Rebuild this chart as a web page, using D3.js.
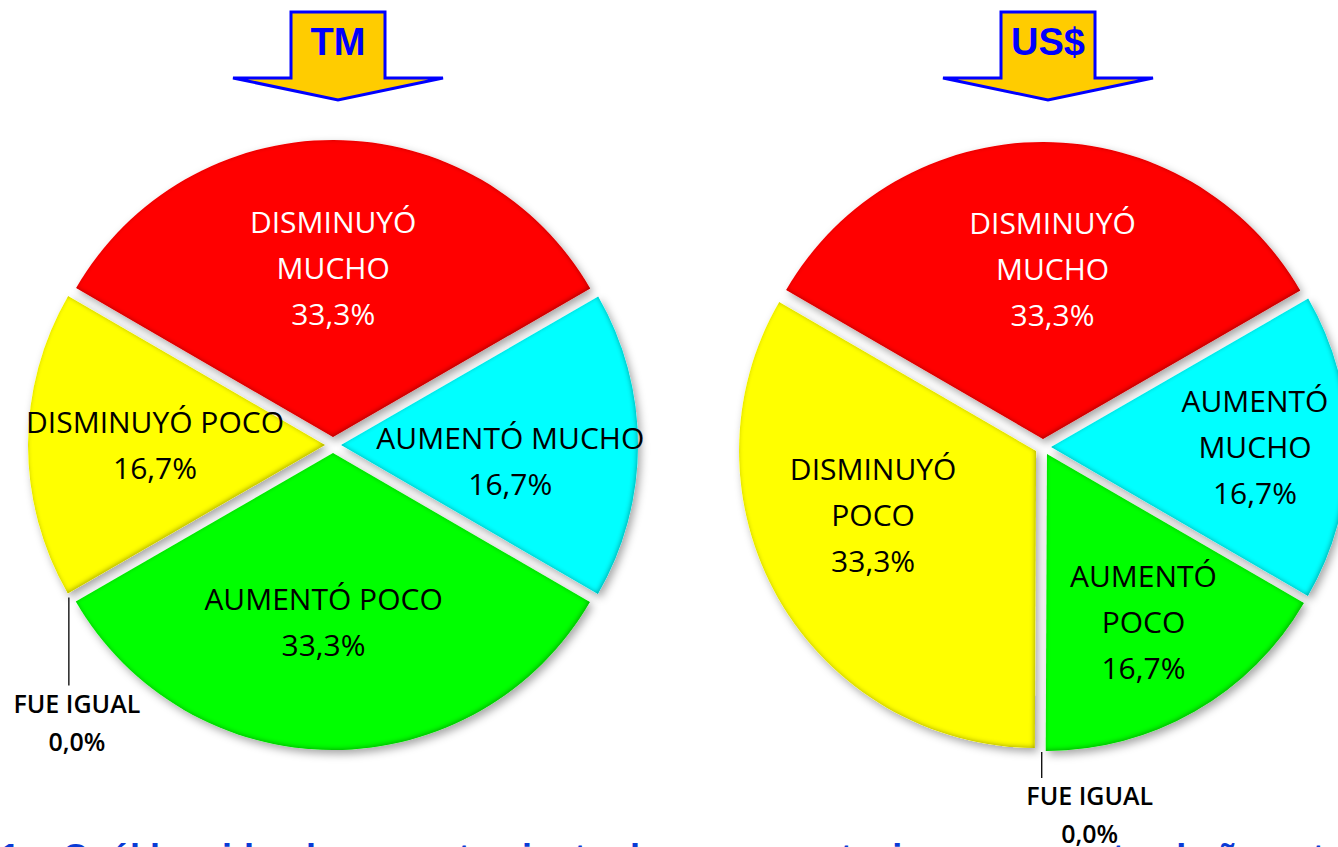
<!DOCTYPE html>
<html lang="es">
<head>
<meta charset="UTF-8">
<title>TM / US$</title>
<script src="https://d3js.org/d3.v7.min.js"></script>
<style>
  html, body { margin:0; padding:0; background:#fff; overflow:hidden; }
  svg { display:block; }
  .lbl { font-family:"Open Sans", sans-serif; font-size:30px; font-weight:500; text-anchor:middle; }
  .fue { font-family:"Open Sans", sans-serif; font-size:25px; font-weight:600; text-anchor:middle; }
  .head { font-family:"Liberation Sans", Arial, sans-serif; font-weight:bold; font-size:38px; fill:#0000ff; text-anchor:middle; }
</style>
</head>
<body>
<div id="chart"></div>
<script>
// data
const categories = ["AUMENTÓ MUCHO", "AUMENTÓ POCO", "FUE IGUAL", "DISMINUYÓ POCO", "DISMINUYÓ MUCHO"];
const tmValues  = [16.7, 33.3, 0, 16.7, 33.3];
const usdValues = [16.7, 16.7, 0, 33.3, 33.3];
const tmLabelLines  = [["AUMENTÓ MUCHO"], ["AUMENTÓ POCO"], ["FUE IGUAL"], ["DISMINUYÓ POCO"], ["DISMINUYÓ", "MUCHO"]];
const usdLabelLines = [["AUMENTÓ", "MUCHO"], ["AUMENTÓ", "POCO"], ["FUE IGUAL"], ["DISMINUYÓ", "POCO"], ["DISMINUYÓ", "MUCHO"]];
const titles = ["TM", "US$"];
const colors = ["#00ffff", "#00ff00", "#888888", "#ffff00", "#ff0000"];
const textColors = ["#000", "#000", "#000", "#000", "#fff"];
const footText = "1. ¿Cuál ha sido el comportamiento de sus exportaciones respecto al año anterior? (1. 2";

const W = 1338, H = 847, R = 297, explode = 8;
// layout: per-slice label [radius, angle shift in degrees]
const charts = [
  { title: titles[0], values: tmValues, lines: tmLabelLines, cx: 333, cy: 445,
    labelPos: [[178, 5], [177, 3], [0, 0], [178, 0], [177, 0]], fueLen: 88, fueDx: 8 },
  { title: titles[1], values: usdValues, lines: usdLabelLines, cx: 1043, cy: 447,
    labelPos: [[212, 0], [202, 0], [0, 0], [183, 8], [178, 3]], fueLen: 26, fueDx: 48 }
];

const svg = d3.select("#chart").append("svg").attr("width", W).attr("height", H);
const defs = svg.append("defs");
const f = defs.append("filter").attr("id", "bevel")
  .attr("x", "-15%").attr("y", "-15%").attr("width", "130%").attr("height", "130%");
f.append("feGaussianBlur").attr("in", "SourceAlpha").attr("stdDeviation", 4).attr("result", "b");
f.append("feOffset").attr("in", "b").attr("dx", 3).attr("dy", 4).attr("result", "ob");
f.append("feFlood").attr("flood-color", "#000").attr("flood-opacity", 0.35);
f.append("feComposite").attr("in2", "ob").attr("operator", "in").attr("result", "shadow");
f.append("feGaussianBlur").attr("in", "SourceAlpha").attr("stdDeviation", 2.5).attr("result", "b2");
f.append("feOffset").attr("in", "b2").attr("dx", -1.5).attr("dy", -1.5).attr("result", "b3");
f.append("feComposite").attr("in", "SourceAlpha").attr("in2", "b3").attr("operator", "arithmetic")
  .attr("k2", 1).attr("k3", -1).attr("result", "edge");
f.append("feFlood").attr("flood-color", "#000").attr("flood-opacity", 0.65);
f.append("feComposite").attr("in2", "edge").attr("operator", "in").attr("result", "edgeDark");
const fm = f.append("feMerge");
fm.append("feMergeNode").attr("in", "shadow");
fm.append("feMergeNode").attr("in", "SourceGraphic");
fm.append("feMergeNode").attr("in", "edgeDark");

const pie = d3.pie().sort(null).value(d => d)
  .startAngle(Math.PI / 3).endAngle(Math.PI / 3 + 2 * Math.PI);
const arc = d3.arc().innerRadius(0).outerRadius(R);
const fmt = v => v.toFixed(1).replace(".", ",") + "%";

charts.forEach(c => {
  const g = svg.append("g").attr("transform", `translate(${c.cx},${c.cy})`);
  const arcs = pie(c.values);

  g.selectAll("path.slice").data(arcs.filter(a => a.value > 0)).join("path")
    .attr("class", "slice")
    .attr("d", arc)
    .attr("fill", a => colors[a.index])
    .attr("filter", "url(#bevel)")
    .attr("transform", a => {
      const m = (a.startAngle + a.endAngle) / 2;
      return `translate(${explode * Math.sin(m)},${-explode * Math.cos(m)})`;
    });

  arcs.forEach(a => {
    const i = a.index;
    const m = (a.startAngle + a.endAngle) / 2;
    if (a.value > 0) {
      const [lr, shift] = c.labelPos[i];
      const ang = m + shift * Math.PI / 180;
      const x = lr * Math.sin(ang), y = -lr * Math.cos(ang);
      const lines = c.lines[i].concat([fmt(a.value)]);
      const step = 46;
      const y0 = y - (lines.length - 1) * step / 2 + 11;
      const t = g.append("text").attr("class", "lbl").attr("fill", textColors[i]);
      lines.forEach((s, k) => t.append("tspan").attr("x", x).attr("y", y0 + k * step).text(s));
    } else {
      // zero slice: leader line and outside label
      const r0 = R + explode;
      const x = r0 * Math.sin(m), y = -r0 * Math.cos(m);
      g.append("line").attr("x1", x).attr("x2", x).attr("y1", y).attr("y2", y + c.fueLen)
        .attr("stroke", "#000").attr("stroke-width", 1.3);
      const t = g.append("text").attr("class", "fue").attr("fill", "#000");
      t.append("tspan").attr("x", x + c.fueDx).attr("y", y + c.fueLen + 27).text(categories[i]);
      t.append("tspan").attr("x", x + c.fueDx).attr("y", y + c.fueLen + 65).text(fmt(a.value));
    }
  });

  // header arrow
  const ax = c.cx + 5;
  const p = d3.path();
  p.moveTo(ax - 47, 12); p.lineTo(ax + 47, 12); p.lineTo(ax + 47, 78);
  p.lineTo(ax + 105, 78); p.lineTo(ax, 100); p.lineTo(ax - 105, 78);
  p.lineTo(ax - 47, 78); p.closePath();
  svg.append("path").attr("d", p.toString()).attr("fill", "#ffcc00")
    .attr("stroke", "#0000ff").attr("stroke-width", 3).attr("stroke-linejoin", "miter");
  svg.append("text").attr("class", "head").attr("x", ax).attr("y", 55).text(c.title);
});

svg.append("text").attr("x", 0).attr("y", 870)
  .attr("font-family", "Liberation Sans, Arial, sans-serif").attr("font-weight", "bold")
  .attr("font-size", 36).attr("fill", "#0a3bd6")
  .text(footText);
</script>
</body>
</html>
